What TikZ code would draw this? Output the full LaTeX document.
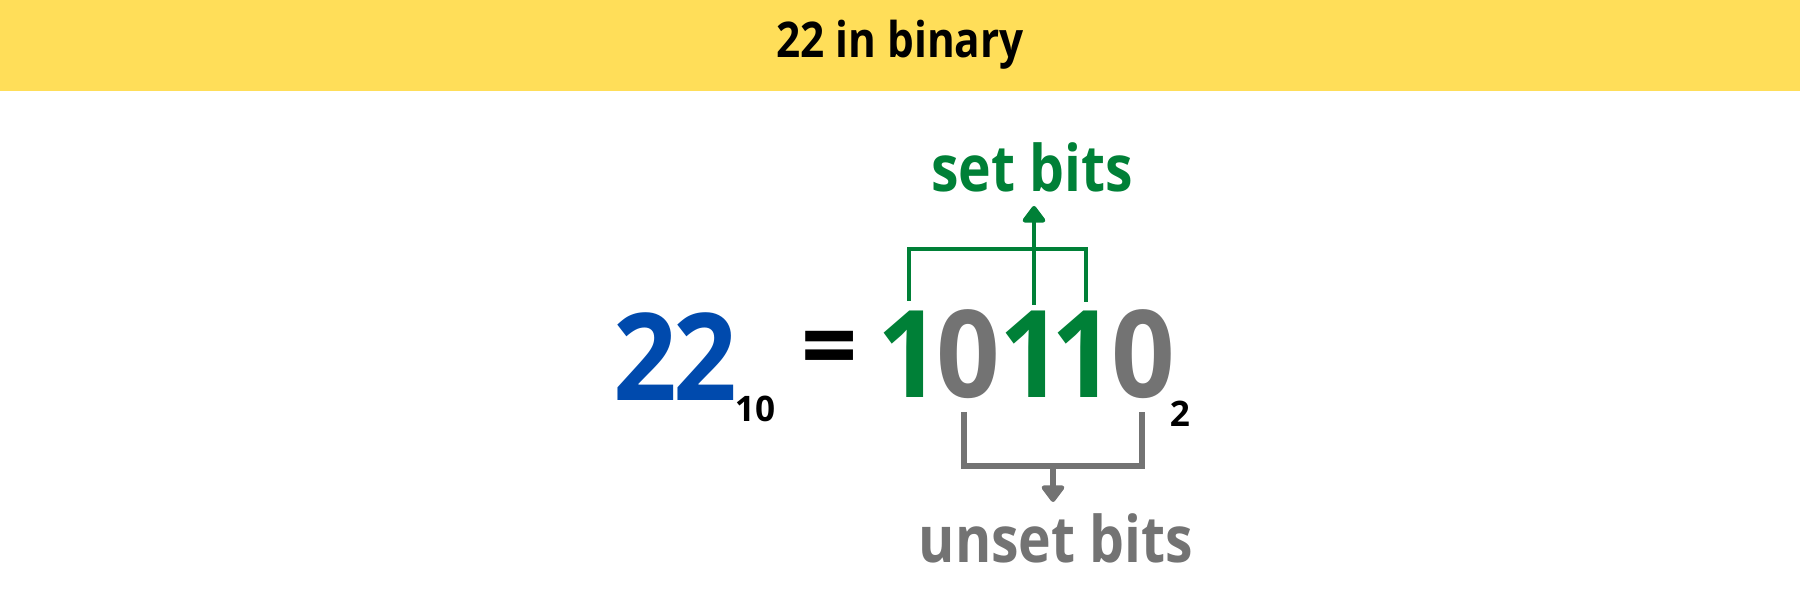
\documentclass[tikz,border=0pt]{standalone}
\usepackage{fontspec}
\setmainfont{Open Sans}
\newfontfamily\numfont{Open Sans}[FakeStretch=0.92]
\newfontfamily\labelfont{Open Sans}[FakeStretch=0.86]
\usetikzlibrary{arrows.meta}
\definecolor{bannerYellow}{HTML}{FFDE59}
\definecolor{decBlue}{HTML}{004AAD}
\definecolor{setGreen}{HTML}{008037}
\definecolor{unsetGray}{HTML}{737373}

\begin{document}
\begin{tikzpicture}[x=1.0cm,y=1.0cm,
  >={Triangle[round,length=5.2pt,width=7.4pt]},
  bigdigit/.style={inner sep=0pt,font=\numfont\bfseries\fontsize{34.5}{40}\selectfont},
  basesub/.style={inner sep=0pt,font=\bfseries\fontsize{10}{12}\selectfont},
  setline/.style={line width=1.3pt,color=setGreen},
  unsetline/.style={line width=1.6pt,color=unsetGray},
  bitlabel/.style={inner sep=0pt,font=\labelfont\bfseries\fontsize{18.3}{22}\selectfont}]
				\useasboundingbox (0,0) rectangle (18,6);
				\fill [color=bannerYellow] (0,5.09) rectangle (18,6);
				\node[inner sep=0pt,font=\labelfont\bfseries\fontsize{14}{16}\selectfont] (title) at (9,5.55) {22 in binary};
				% decimal side
				\node[bigdigit,text=decBlue] (dec) at (6.75,2.435) {2\kern-1pt2};
				\node[basesub] (base10) at (7.55,1.915) {10};
				\node[bigdigit,font=\bfseries\fontsize{28}{32}\selectfont] (eq) at (8.30,2.445) {=};
				% binary digits
				\node[bigdigit] (bin) at (10.262,2.455) {\textcolor{setGreen}{1}\kern-1.3pt\textcolor{unsetGray}{0}\textcolor{setGreen}{1}\kern-3.3pt\textcolor{setGreen}{1}\kern-1.1pt\textcolor{unsetGray}{0}};
				\node[basesub] (base2) at (11.80,1.865) {2};
				% set bits bracket
				\coordinate (s4) at (9.09,2.99);
				\coordinate (s4t) at (9.09,3.51);
				\coordinate (s2) at (10.34,2.95);
				\coordinate (stip) at (10.34,3.94);
				\coordinate (s1) at (10.86,2.98);
				\coordinate (s1t) at (10.86,3.51);
				\draw [setline] (s4) -- (s4t) -- (s1t) -- (s1);
				\draw [setline,->] (s2) -- (stip);
				\node[bitlabel,text=setGreen] (setlbl) at (10.32,4.33) {set bits};
				% unset bits bracket
				\coordinate (u3) at (9.64,1.88);
				\coordinate (u3b) at (9.64,1.34);
				\coordinate (u0) at (11.42,1.88);
				\coordinate (u0b) at (11.42,1.34);
				\coordinate (umid) at (10.53,1.34);
				\coordinate (utip) at (10.53,0.98);
				\draw [unsetline] (u3) -- (u3b) -- (u0b) -- (u0);
				\draw [unsetline,->] (umid) -- (utip);
				\node[bitlabel,text=unsetGray] (unsetlbl) at (10.56,0.62) {unset bits};
\end{tikzpicture}
\end{document}
